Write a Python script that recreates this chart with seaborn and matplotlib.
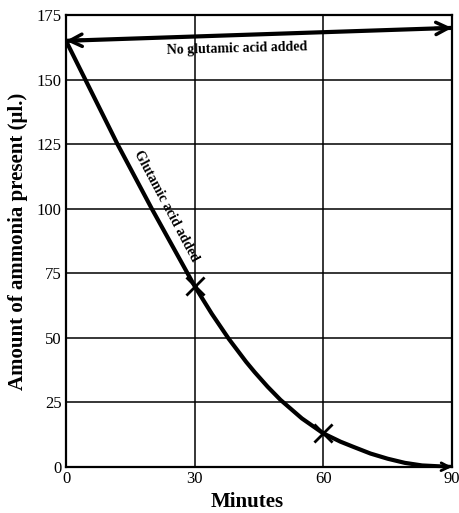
import matplotlib
matplotlib.use("Agg")
import matplotlib.pyplot as plt
import seaborn as sns
import pandas as pd

# Data
ctrl_minutes = [0, 90]
ctrl_ammonia = [165, 170]

glu_minutes = [0, 12, 20, 25, 30, 34, 38, 42, 44, 47, 50, 55, 60, 64, 67, 71, 75, 79, 83, 90]
glu_ammonia = [165, 125, 100, 85, 70, 59.3, 49.5, 40.7, 36.7, 31.1, 26, 18.8, 13, 9.8, 7.8, 5.2, 3.2, 1.6, 0.6, 0]

marker_minutes = [30, 60]
marker_ammonia = [70, 13]

x_ticks = [0, 30, 60, 90]
y_ticks = [0, 25, 50, 75, 100, 125, 150, 175]

sns.set_style("white")
plt.rcParams["font.family"] = ["Liberation Serif", "DejaVu Serif"]
plt.rcParams["text.color"] = "black"

fig = plt.figure(figsize=(4.59, 5.13), dpi=100)
ax = fig.add_axes([0.1438, 0.0897, 0.8409, 0.8811])

ctrl = pd.DataFrame({"Minutes": ctrl_minutes, "Ammonia": ctrl_ammonia})
glu = pd.DataFrame({"Minutes": glu_minutes, "Ammonia": glu_ammonia})
mk = pd.DataFrame({"Minutes": marker_minutes, "Ammonia": marker_ammonia})

sns.lineplot(data=ctrl, x="Minutes", y="Ammonia", ax=ax, color="black",
             linewidth=3, zorder=3)
sns.lineplot(data=glu, x="Minutes", y="Ammonia", ax=ax, color="black",
             linewidth=3, zorder=3, sort=False, solid_joinstyle="round",
             solid_capstyle="round")
sns.scatterplot(data=mk, x="Minutes", y="Ammonia", ax=ax, marker="x",
                s=170, color="black", linewidth=2.0, zorder=4)

# arrowheads
arrow_kw = dict(arrowstyle="->", color="black", lw=2.5,
                mutation_scale=22, shrinkA=0, shrinkB=0)
ax.annotate("", xy=(ctrl_minutes[0], ctrl_ammonia[0]),
            xytext=(ctrl_minutes[0] + 4, ctrl_ammonia[0] + 0.22),
            arrowprops=arrow_kw, zorder=5)
ax.annotate("", xy=(ctrl_minutes[-1], ctrl_ammonia[-1]),
            xytext=(ctrl_minutes[-1] - 4, ctrl_ammonia[-1] - 0.22),
            arrowprops=arrow_kw, zorder=5)
ax.annotate("", xy=(glu_minutes[-1], glu_ammonia[-1]),
            xytext=(glu_minutes[-1] - 4, glu_ammonia[-1] + 0.15),
            arrowprops=dict(arrowstyle="->", color="black", lw=2.0,
                            mutation_scale=14, shrinkA=0, shrinkB=0), zorder=5)

ax.text(40, 162, "No glutamic acid added", fontsize=10, fontweight="bold",
        color="black", ha="center", va="center", rotation=1.5)
ax.text(23.3, 101, "Glutamic acid added", fontsize=10, fontweight="bold",
        color="black", ha="center", va="center", rotation=-62)

ax.set_xlim(0, 90)
ax.set_ylim(0, 175)
ax.set_xticks(x_ticks)
ax.set_yticks(y_ticks)
ax.grid(True, color="black", linewidth=1.1)
ax.set_axisbelow(True)
for s in ax.spines.values():
    s.set_color("black")
    s.set_linewidth(1.6)
ax.tick_params(axis="both", length=0, labelsize=12, pad=3,
               colors="black", labelcolor="black")

ax.set_xlabel("Minutes", fontsize=15, fontweight="bold", labelpad=4,
              color="black")
ax.xaxis.set_label_coords(0.47, -0.055)
ax.set_ylabel("Amount of ammonia present (\u03bcl.)", fontsize=15,
              fontweight="bold", labelpad=6, color="black")

fig.savefig("out.png", dpi=100)
